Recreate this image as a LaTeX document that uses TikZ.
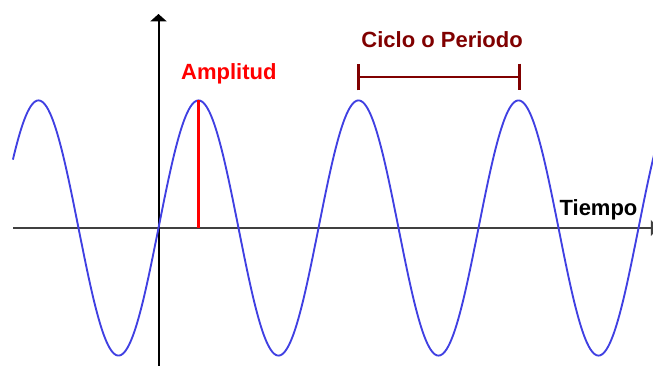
\documentclass[tikz,border=0pt]{standalone}
\usepackage{fontspec}
\setmainfont{Liberation Sans}
\usetikzlibrary{arrows.meta}
\definecolor{wavecol}{RGB}{64,64,226}
\definecolor{darkred}{RGB}{128,0,0}
\begin{document}
\begin{tikzpicture}[x=30pt,y=30pt,
  axis/.style={line width=1.5pt,-{Triangle[width=12pt,length=5.5pt]}},
  wave/.style={wavecol,line width=1.4pt},
  lbl/.style={font=\fontsize{16.5}{20}\selectfont\bfseries,inner sep=0pt,anchor=base}]
  \useasboundingbox (-3.9625,-3.425) rectangle (12.3625,5.7);
  \clip (-3.9625,-3.425) rectangle (12.3625,5.7);
  % axes
  \coordinate (xs) at (-3.63,0);
  \coordinate (xe) at (12.49,0);
  \coordinate (ys) at (0,-3.6);
  \coordinate (ye) at (0,5.35);
  \draw[axis,black!75] (xs) -- (xe);
  \draw[axis] (ys) -- (ye);
  % signal
  \draw[wave] plot[domain=-3.64:12.45,samples=400,smooth] (\x,{3.19*sin(90*\x)});
  % amplitude
  \coordinate (ampBase) at (1,0);
  \coordinate (ampTop) at (1,3.19);
  \draw[red,line width=2.2pt] (ampBase) -- (ampTop);
  \node[lbl,red] (amp) at (1.76,3.725) {Amplitud};
  % period
  \coordinate (perA) at (4.96,3.775);
  \coordinate (perB) at (9.05,3.775);
  \draw[darkred,line width=2pt,{Bar[width=20pt]}-{Bar[width=20pt]}] (perA) -- (perB);
  \node[lbl,darkred] (per) at (7.09,4.525) {Ciclo o Periodo};
  \node[lbl] (time) at (11.0,0.325) {Tiempo};
\end{tikzpicture}
\end{document}
